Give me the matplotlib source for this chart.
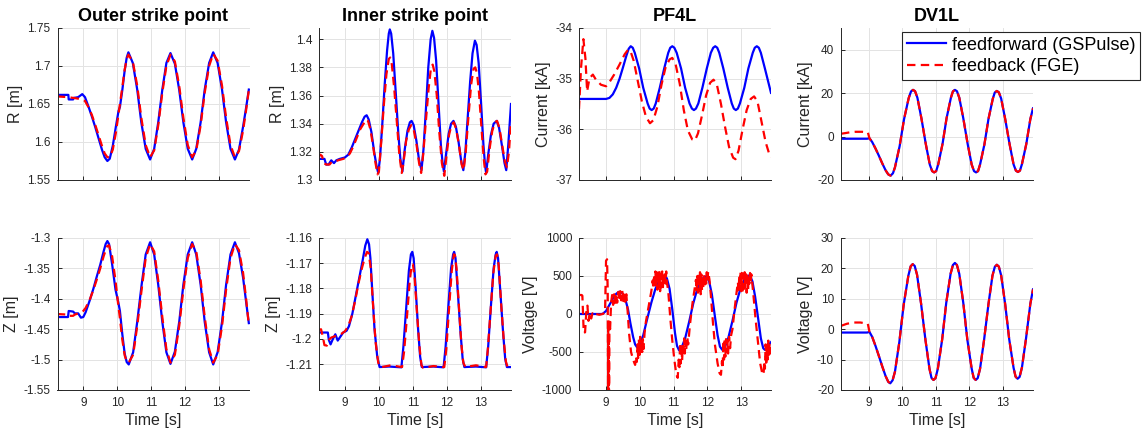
import numpy as np
import matplotlib.pyplot as plt
from matplotlib.ticker import FuncFormatter

plt.rcParams['font.family'] = ['Liberation Sans', 'DejaVu Sans']
plt.rcParams['axes.unicode_minus'] = False

# ---------------- data ----------------
# outer strike point, shared time base
t_outer_r = [8.22, 8.56, 8.57, 8.70, 8.72, 8.85, 8.97, 9.05, 9.15, 9.25, 9.35, 9.45, 9.55, 9.63,
             9.71, 9.78, 9.87, 9.96, 10.04, 10.08, 10.15, 10.22, 10.28, 10.33, 10.46, 10.59, 10.71,
             10.84, 10.97, 11.09, 11.21, 11.33, 11.45, 11.57, 11.70, 11.83, 11.95, 12.08, 12.21,
             12.33, 12.46, 12.58, 12.71, 12.83, 12.96, 13.09, 13.21, 13.34, 13.47, 13.59, 13.71,
             13.80, 13.88]
outer_r_ff = [1.662, 1.662, 1.656, 1.656, 1.658, 1.659, 1.663, 1.659, 1.647, 1.634, 1.620, 1.605,
              1.590, 1.580, 1.575, 1.578, 1.595, 1.620, 1.641, 1.646, 1.668, 1.694, 1.711, 1.718,
              1.704, 1.669, 1.626, 1.591, 1.577, 1.591, 1.626, 1.669, 1.704, 1.717, 1.703, 1.668,
              1.626, 1.591, 1.577, 1.591, 1.626, 1.669, 1.704, 1.718, 1.704, 1.669, 1.626, 1.591,
              1.577, 1.590, 1.620, 1.645, 1.669]
outer_r_fb = [1.660, 1.659, 1.659, 1.658, 1.658, 1.657, 1.656, 1.654, 1.646, 1.636, 1.623, 1.609,
              1.595, 1.585, 1.580, 1.580, 1.590, 1.612, 1.637, 1.650, 1.672, 1.695, 1.709, 1.715,
              1.706, 1.674, 1.632, 1.596, 1.580, 1.589, 1.622, 1.665, 1.700, 1.715, 1.706, 1.673,
              1.632, 1.596, 1.580, 1.589, 1.622, 1.665, 1.700, 1.716, 1.707, 1.674, 1.632, 1.596,
              1.580, 1.588, 1.615, 1.642, 1.668]

t_outer_z = [8.22, 8.55, 8.57, 8.70, 8.75, 8.85, 8.93, 9.00, 9.07, 9.20, 9.30, 9.40, 9.50, 9.60,
             9.66, 9.71, 9.76, 9.85, 9.95, 10.03, 10.08, 10.15, 10.22, 10.28, 10.34, 10.47, 10.59,
             10.72, 10.84, 10.97, 11.09, 11.21, 11.33, 11.45, 11.57, 11.70, 11.83, 11.95, 12.08,
             12.21, 12.33, 12.46, 12.58, 12.71, 12.83, 12.96, 13.09, 13.21, 13.34, 13.47, 13.59,
             13.71, 13.80, 13.88]
outer_z_ff = [-1.430, -1.430, -1.420, -1.421, -1.424, -1.424, -1.431, -1.430, -1.422, -1.401,
              -1.383, -1.363, -1.344, -1.322, -1.310, -1.305, -1.310, -1.343, -1.385, -1.405,
              -1.420, -1.458, -1.490, -1.504, -1.508, -1.488, -1.438, -1.377, -1.327, -1.307,
              -1.327, -1.377, -1.438, -1.488, -1.507, -1.487, -1.437, -1.377, -1.327, -1.307,
              -1.327, -1.377, -1.438, -1.488, -1.508, -1.488, -1.438, -1.377, -1.327, -1.307,
              -1.325, -1.365, -1.405, -1.440]
outer_z_fb = [-1.425, -1.426, -1.428, -1.428, -1.426, -1.424, -1.422, -1.420, -1.415, -1.400,
              -1.385, -1.368, -1.350, -1.330, -1.320, -1.313, -1.312, -1.330, -1.370, -1.410,
              -1.432, -1.467, -1.493, -1.503, -1.505, -1.492, -1.445, -1.385, -1.333, -1.310,
              -1.322, -1.370, -1.430, -1.483, -1.505, -1.492, -1.444, -1.385, -1.333, -1.310,
              -1.322, -1.370, -1.430, -1.483, -1.505, -1.492, -1.445, -1.385, -1.333, -1.310,
              -1.320, -1.357, -1.400, -1.443]

# inner strike point, (time, value) pairs
inner_r_ff = [(8.22, 1.315), (8.40, 1.315), (8.45, 1.311), (8.52, 1.311), (8.60, 1.314), (8.68, 1.312),
              (8.75, 1.314), (8.85, 1.315), (9.00, 1.316), (9.10, 1.318), (9.20, 1.323), (9.30, 1.329),
              (9.40, 1.335), (9.50, 1.341), (9.58, 1.345), (9.64, 1.346), (9.70, 1.343), (9.78, 1.334),
              (9.86, 1.320), (9.93, 1.310), (9.98, 1.305), (10.03, 1.315), (10.10, 1.340), (10.17, 1.368),
              (10.24, 1.392), (10.29, 1.404), (10.32, 1.407), (10.36, 1.404), (10.42, 1.390), (10.50, 1.360),
              (10.57, 1.333), (10.63, 1.315), (10.69, 1.306), (10.76, 1.322), (10.84, 1.335), (10.91, 1.341),
              (10.96, 1.342), (11.02, 1.339), (11.10, 1.328), (11.18, 1.314), (11.25, 1.307), (11.31, 1.322),
              (11.38, 1.350), (11.45, 1.380), (11.52, 1.400), (11.57, 1.406), (11.62, 1.401), (11.68, 1.385),
              (11.75, 1.355), (11.82, 1.325), (11.87, 1.312), (11.91, 1.306), (11.97, 1.318), (12.05, 1.333),
              (12.12, 1.340), (12.19, 1.342), (12.26, 1.338), (12.34, 1.327), (12.42, 1.313), (12.48, 1.307),
              (12.54, 1.320), (12.61, 1.345), (12.68, 1.370), (12.75, 1.390), (12.82, 1.399), (12.87, 1.396),
              (12.93, 1.383), (13.00, 1.355), (13.07, 1.325), (13.12, 1.310), (13.15, 1.305), (13.21, 1.318),
              (13.29, 1.332), (13.37, 1.340), (13.46, 1.342), (13.53, 1.337), (13.61, 1.325), (13.69, 1.312),
              (13.74, 1.307), (13.80, 1.325), (13.88, 1.354)]
inner_r_fb = [(8.22, 1.316), (8.28, 1.318), (8.33, 1.317), (8.38, 1.312), (8.45, 1.311), (8.55, 1.311),
              (8.62, 1.313), (8.70, 1.313), (8.80, 1.314), (8.95, 1.315), (9.05, 1.316), (9.15, 1.319),
              (9.25, 1.324), (9.35, 1.330), (9.45, 1.336), (9.55, 1.340), (9.62, 1.343), (9.68, 1.342),
              (9.75, 1.336), (9.83, 1.324), (9.90, 1.312), (9.96, 1.304), (10.00, 1.306), (10.07, 1.328),
              (10.14, 1.352), (10.22, 1.375), (10.29, 1.386), (10.33, 1.387), (10.38, 1.382), (10.45, 1.365),
              (10.53, 1.340), (10.60, 1.318), (10.67, 1.305), (10.72, 1.312), (10.80, 1.328), (10.88, 1.336),
              (10.95, 1.339), (11.02, 1.336), (11.10, 1.326), (11.18, 1.312), (11.24, 1.305), (11.30, 1.318),
              (11.38, 1.342), (11.46, 1.365), (11.53, 1.380), (11.58, 1.382), (11.63, 1.377), (11.70, 1.360),
              (11.77, 1.335), (11.85, 1.312), (11.92, 1.303), (11.98, 1.316), (12.06, 1.332), (12.13, 1.339),
              (12.20, 1.341), (12.27, 1.336), (12.35, 1.325), (12.43, 1.311), (12.49, 1.307), (12.55, 1.320),
              (12.63, 1.345), (12.71, 1.368), (12.78, 1.379), (12.83, 1.380), (12.88, 1.376), (12.94, 1.362),
              (13.01, 1.338), (13.08, 1.315), (13.13, 1.304), (13.18, 1.306), (13.25, 1.322), (13.33, 1.335),
              (13.41, 1.341), (13.47, 1.342), (13.54, 1.337), (13.62, 1.325), (13.70, 1.313), (13.76, 1.309),
              (13.82, 1.320), (13.88, 1.342)]

inner_z_ff = [(8.22, -1.1975), (8.50, -1.1975), (8.53, -1.2005), (8.58, -1.2022), (8.65, -1.2000),
              (8.72, -1.1982), (8.79, -1.2007), (8.86, -1.1993), (8.95, -1.1975), (9.05, -1.1968),
              (9.12, -1.1950), (9.22, -1.1900), (9.32, -1.1830), (9.42, -1.1760), (9.52, -1.1690),
              (9.60, -1.1630), (9.66, -1.1605), (9.71, -1.1625), (9.75, -1.1680), (9.80, -1.1800),
              (9.87, -1.1960), (9.95, -1.2070), (10.02, -1.2112), (10.30, -1.2110), (10.66, -1.2113),
              (10.72, -1.2030), (10.80, -1.1880), (10.88, -1.1730), (10.94, -1.1665), (10.98, -1.1655),
              (11.02, -1.1680), (11.08, -1.1800), (11.15, -1.1960), (11.21, -1.2070), (11.26, -1.2112),
              (11.60, -1.2110), (11.90, -1.2113), (11.96, -1.2030), (12.04, -1.1870), (12.12, -1.1720),
              (12.18, -1.1665), (12.21, -1.1655), (12.25, -1.1680), (12.32, -1.1820), (12.40, -1.1980),
              (12.46, -1.2080), (12.51, -1.2112), (12.85, -1.2110), (13.15, -1.2113), (13.21, -1.2030),
              (13.29, -1.1870), (13.37, -1.1720), (13.43, -1.1665), (13.46, -1.1655), (13.50, -1.1680),
              (13.57, -1.1820), (13.65, -1.1980), (13.71, -1.2080), (13.76, -1.2112), (13.88, -1.2112)]
inner_z_fb = [(8.22, -1.1965), (8.30, -1.1962), (8.35, -1.1990), (8.40, -1.2025), (8.47, -1.2027),
              (8.52, -1.2005), (8.60, -1.1995), (8.70, -1.1990), (8.80, -1.1985), (8.90, -1.1980),
              (9.00, -1.1970), (9.10, -1.1950), (9.20, -1.1910), (9.30, -1.1850), (9.40, -1.1780),
              (9.50, -1.1720), (9.58, -1.1680), (9.65, -1.1655), (9.70, -1.1660), (9.76, -1.1720),
              (9.83, -1.1870), (9.90, -1.2010), (9.98, -1.2095), (10.05, -1.2113), (10.35, -1.2105),
              (10.68, -1.2112), (10.74, -1.2050), (10.82, -1.1920), (10.90, -1.1780), (10.96, -1.1705),
              (11.00, -1.1705), (11.05, -1.1760), (11.12, -1.1900), (11.19, -1.2030), (11.25, -1.2105),
              (11.30, -1.2115), (11.60, -1.2108), (11.92, -1.2112), (11.98, -1.2040), (12.06, -1.1880),
              (12.14, -1.1730), (12.20, -1.1665), (12.23, -1.1667), (12.28, -1.1720), (12.35, -1.1870),
              (12.42, -1.2020), (12.48, -1.2095), (12.54, -1.2112), (12.85, -1.2105), (13.15, -1.2112),
              (13.20, -1.2040), (13.28, -1.1890), (13.36, -1.1740), (13.43, -1.1670), (13.47, -1.1665),
              (13.52, -1.1710), (13.59, -1.1860), (13.67, -1.2010), (13.73, -1.2090), (13.78, -1.2113),
              (13.88, -1.2112)]

# PF4L coil
pf4l_i_ff = [(8.20, -35.40), (9.00, -35.40), (9.10, -35.38), (9.20, -35.31), (9.30, -35.18), (9.40, -35.00),
             (9.50, -34.78), (9.60, -34.55), (9.67, -34.41), (9.73, -34.36), (9.79, -34.39), (9.85, -34.49),
             (9.98, -34.80), (10.10, -35.18), (10.23, -35.49), (10.29, -35.59), (10.35, -35.62), (10.41, -35.59),
             (10.47, -35.49), (10.59, -35.18), (10.72, -34.80), (10.84, -34.49), (10.90, -34.39), (10.96, -34.36),
             (11.02, -34.39), (11.09, -34.49), (11.22, -34.80), (11.34, -35.18), (11.47, -35.49), (11.54, -35.59),
             (11.60, -35.62), (11.66, -35.59), (11.73, -35.49), (11.85, -35.18), (11.98, -34.80), (12.10, -34.49),
             (12.17, -34.39), (12.23, -34.36), (12.29, -34.39), (12.35, -34.49), (12.47, -34.80), (12.60, -35.18),
             (12.72, -35.49), (12.78, -35.59), (12.84, -35.62), (12.90, -35.59), (12.96, -35.49), (13.09, -35.18),
             (13.21, -34.80), (13.34, -34.49), (13.40, -34.39), (13.46, -34.36), (13.52, -34.39), (13.58, -34.49),
             (13.70, -34.80), (13.82, -35.12), (13.88, -35.28)]
pf4l_i_fb = [(8.20, -35.60), (8.26, -34.79), (8.33, -34.22), (8.39, -34.60), (8.44, -35.25), (8.51, -34.99),
             (8.61, -34.92), (8.70, -35.02), (8.85, -35.12), (9.00, -35.15), (9.10, -35.07), (9.24, -34.92),
             (9.40, -34.72), (9.55, -34.52), (9.65, -34.43), (9.72, -34.45), (9.82, -34.65), (9.94, -35.05),
             (10.06, -35.45), (10.18, -35.75), (10.30, -35.88), (10.40, -35.82), (10.52, -35.55), (10.64, -35.12),
             (10.76, -34.78), (10.88, -34.62), (10.96, -34.59), (11.06, -34.72), (11.18, -35.10), (11.30, -35.62),
             (11.42, -36.02), (11.55, -36.20), (11.63, -36.22), (11.72, -36.08), (11.84, -35.72), (11.96, -35.33),
             (12.08, -35.08), (12.18, -35.02), (12.28, -35.12), (12.40, -35.50), (12.52, -35.95), (12.64, -36.35),
             (12.76, -36.56), (12.83, -36.59), (12.92, -36.42), (13.04, -36.00), (13.16, -35.62), (13.28, -35.40),
             (13.38, -35.35), (13.48, -35.45), (13.60, -35.85), (13.72, -36.25), (13.82, -36.47), (13.88, -36.55)]

pf4l_v_ff = [(8.20, 0), (8.85, 0), (8.90, 2), (9.00, 40), (9.10, 120), (9.20, 200), (9.30, 265), (9.38, 292),
             (9.44, 290), (9.50, 265), (9.58, 180), (9.65, 60), (9.72, -120), (9.80, -300), (9.86, -400),
             (9.92, -440), (9.98, -420), (10.10, -280), (10.22, -60), (10.34, 150), (10.46, 330), (10.58, 450),
             (10.68, 492), (10.74, 495), (10.80, 470), (10.88, 330), (10.96, 60), (11.04, -250), (11.10, -420),
             (11.16, -478), (11.22, -460), (11.34, -320), (11.46, -100), (11.58, 140), (11.70, 330), (11.82, 450),
             (11.92, 493), (11.98, 490), (12.05, 430), (12.13, 260), (12.22, -30), (12.30, -280), (12.37, -430),
             (12.44, -472), (12.50, -455), (12.62, -310), (12.74, -90), (12.86, 150), (12.98, 340), (13.10, 460),
             (13.20, 505), (13.26, 500), (13.33, 430), (13.41, 230), (13.50, -60), (13.58, -320), (13.65, -450),
             (13.70, -472), (13.76, -455), (13.82, -400), (13.88, -370)]
pf4l_v_fb = [(8.20, 250), (8.28, 250), (8.30, 240), (8.34, -250), (8.38, -240), (8.42, 60), (8.45, 110),
             (8.48, -90), (8.52, 20), (8.56, -60), (8.60, 10), (8.65, -20), (8.70, 0), (8.80, -10), (8.90, 0),
             (8.97, 20), (9.00, 700), (9.03, 720), (9.05, 300), (9.06, -1000), (9.065, -200), (9.07, -1050),
             (9.075, -300), (9.08, -1050), (9.085, -250), (9.09, -1050), (9.10, -100), (9.12, -200),
             (9.15, 150), (9.18, 250), (9.21, 120), (9.24, 260), (9.27, 110), (9.30, 270), (9.33, 150),
             (9.36, 290), (9.39, 170), (9.42, 300), (9.45, 180), (9.48, 310), (9.51, 140), (9.54, 300),
             (9.57, 160), (9.60, 260), (9.64, 30), (9.68, -250), (9.74, -500), (9.80, -600), (9.86, -670),
             (9.89, -560), (9.91, -630), (9.93, -400), (9.95, -580), (9.97, -330), (9.99, -540), (10.01, -300),
             (10.03, -520), (10.05, -340), (10.07, -500), (10.09, -330), (10.11, -460), (10.14, -250),
             (10.18, -100), (10.26, 100), (10.34, 300), (10.38, 440), (10.40, 330), (10.42, 520), (10.44, 340),
             (10.46, 560), (10.48, 380), (10.50, 550), (10.52, 320), (10.54, 540), (10.56, 360), (10.58, 570),
             (10.60, 300), (10.62, 530), (10.64, 350), (10.66, 560), (10.68, 320), (10.70, 520), (10.72, 380),
             (10.74, 550), (10.76, 400), (10.78, 560), (10.80, 420), (10.84, 300), (10.90, -50), (10.96, -350),
             (11.02, -600), (11.08, -800), (11.12, -840), (11.15, -600), (11.17, -700), (11.19, -380),
             (11.21, -650), (11.23, -400), (11.25, -620), (11.27, -420), (11.29, -560), (11.31, -320),
             (11.33, -520), (11.35, -350), (11.37, -480), (11.40, -300), (11.43, -400), (11.48, -150),
             (11.56, 150), (11.62, 330), (11.66, 450), (11.68, 300), (11.70, 500), (11.72, 280), (11.74, 540),
             (11.76, 300), (11.78, 550), (11.80, 260), (11.82, 520), (11.84, 300), (11.86, 500), (11.88, 340),
             (11.90, 540), (11.92, 350), (11.94, 520), (11.96, 400), (11.98, 550), (12.00, 430), (12.02, 560),
             (12.06, 450), (12.10, 250), (12.16, -100), (12.22, -400), (12.30, -650), (12.36, -780),
             (12.40, -800), (12.43, -620), (12.45, -720), (12.47, -350), (12.49, -600), (12.51, -320),
             (12.53, -560), (12.55, -330), (12.57, -500), (12.59, -350), (12.61, -520), (12.64, -300),
             (12.67, -450), (12.70, -280), (12.74, -200), (12.80, 50), (12.86, 280), (12.90, 420), (12.92, 300),
             (12.94, 480), (12.96, 330), (12.98, 560), (13.00, 300), (13.02, 540), (13.04, 280), (13.06, 520),
             (13.08, 330), (13.10, 550), (13.12, 350), (13.14, 560), (13.16, 280), (13.18, 520), (13.20, 300),
             (13.22, 500), (13.24, 400), (13.26, 540), (13.28, 420), (13.30, 520), (13.36, 250), (13.42, -50),
             (13.50, -400), (13.56, -650), (13.62, -780), (13.66, -800), (13.68, -620), (13.70, -720),
             (13.72, -400), (13.74, -640), (13.76, -380), (13.78, -600), (13.80, -350), (13.82, -560),
             (13.84, -380), (13.86, -520), (13.88, -420)]

# DV1L coil
dv1l_i_ff = [(8.17, -1.0), (8.95, -1.0), (9.02, -0.8), (9.10, -2.5), (9.20, -5.5), (9.30, -8.8), (9.40, -12.3),
             (9.50, -15.5), (9.58, -17.4), (9.65, -18.0), (9.72, -16.9), (9.78, -14.2), (9.92, -4.4), (10.05, 7.9),
             (10.19, 17.7), (10.26, 20.8), (10.32, 21.5), (10.38, 20.9), (10.45, 17.9), (10.57, 8.4), (10.70, -3.4),
             (10.82, -12.9), (10.89, -15.9), (10.95, -16.5), (11.01, -15.9), (11.07, -12.9), (11.20, -3.4),
             (11.32, 8.4), (11.45, 17.9), (11.51, 20.8), (11.57, 21.5), (11.63, 20.9), (11.70, 17.9), (11.82, 8.4),
             (11.95, -3.4), (12.07, -12.9), (12.14, -15.9), (12.20, -16.5), (12.26, -15.9), (12.32, -12.9),
             (12.45, -3.6), (12.57, 8.0), (12.70, 17.4), (12.76, 20.3), (12.82, 21.0), (12.88, 20.4), (12.95, 17.5),
             (13.07, 8.1), (13.20, -3.4), (13.32, -12.8), (13.39, -15.7), (13.45, -16.3), (13.51, -15.7),
             (13.57, -12.7), (13.70, -3.4), (13.82, 8.0), (13.90, 13.0)]
dv1l_i_fb = [(8.17, 1.3), (8.30, 1.6), (8.45, 2.0), (8.60, 2.2), (8.80, 2.2), (8.97, 2.0), (9.02, -0.8),
             (9.10, -2.5), (9.20, -5.5), (9.30, -8.8), (9.40, -12.3), (9.50, -15.5), (9.58, -17.4), (9.65, -18.0),
             (9.72, -16.9), (9.78, -14.2), (9.92, -4.4), (10.05, 7.9), (10.19, 17.7), (10.26, 20.8), (10.32, 21.5),
             (10.38, 20.9), (10.45, 17.9), (10.57, 8.4), (10.70, -3.4), (10.82, -12.9), (10.89, -15.9),
             (10.95, -16.5), (11.01, -15.9), (11.07, -12.9), (11.20, -3.4), (11.32, 8.4), (11.45, 17.9),
             (11.51, 20.8), (11.57, 21.5), (11.63, 20.9), (11.70, 17.9), (11.82, 8.4), (11.95, -3.4),
             (12.07, -12.9), (12.14, -15.9), (12.20, -16.5), (12.26, -15.9), (12.32, -12.9), (12.45, -3.6),
             (12.57, 8.0), (12.70, 17.4), (12.76, 20.3), (12.82, 21.0), (12.88, 20.4), (12.95, 17.5), (13.07, 8.1),
             (13.20, -3.4), (13.32, -12.8), (13.39, -15.7), (13.45, -16.3), (13.51, -15.7), (13.57, -12.7),
             (13.70, -3.4), (13.82, 8.0), (13.90, 13.0)]

dv1l_v_ff = [(8.17, -1.1), (8.95, -1.1), (9.02, -0.9), (9.10, -2.5), (9.20, -5.5), (9.30, -8.8), (9.40, -12.2),
             (9.50, -15.4), (9.58, -17.3), (9.64, -17.8), (9.71, -16.8), (9.78, -14.0), (9.91, -4.3), (10.04, 8.0),
             (10.18, 17.6), (10.25, 20.7), (10.31, 21.4), (10.37, 20.8), (10.44, 17.9), (10.56, 8.4), (10.69, -3.5),
             (10.81, -13.0), (10.87, -16.0), (10.93, -16.7), (10.99, -16.1), (11.06, -13.0), (11.19, -3.3),
             (11.31, 8.6), (11.44, 18.2), (11.51, 21.1), (11.57, 21.8), (11.63, 21.1), (11.70, 18.2), (11.82, 8.6),
             (11.94, -3.4), (12.07, -13.0), (12.13, -16.0), (12.19, -16.7), (12.25, -16.1), (12.32, -13.0),
             (12.44, -3.5), (12.57, 8.2), (12.69, 17.6), (12.76, 20.5), (12.82, 21.2), (12.88, 20.6), (12.95, 17.7),
             (13.07, 8.2), (13.19, -3.3), (13.32, -12.7), (13.38, -15.6), (13.44, -16.3), (13.50, -15.7),
             (13.57, -12.6), (13.69, -3.2), (13.82, 8.3), (13.90, 13.1)]
dv1l_v_fb = [(8.17, 1.1), (8.35, 1.8), (8.55, 2.2), (8.75, 2.2), (8.97, 1.8), (9.02, -0.9), (9.10, -2.5),
             (9.20, -5.5), (9.30, -8.8), (9.40, -12.2), (9.50, -15.4), (9.58, -17.3), (9.64, -17.8), (9.71, -16.8),
             (9.78, -14.0), (9.91, -4.3), (10.04, 8.0), (10.18, 17.6), (10.25, 20.7), (10.31, 21.4), (10.37, 20.8),
             (10.44, 17.9), (10.56, 8.4), (10.69, -3.5), (10.81, -13.0), (10.87, -16.0), (10.93, -16.7),
             (10.99, -16.1), (11.06, -13.0), (11.19, -3.3), (11.31, 8.6), (11.44, 18.2), (11.51, 21.1),
             (11.57, 21.8), (11.63, 21.1), (11.70, 18.2), (11.82, 8.6), (11.94, -3.4), (12.07, -13.0),
             (12.13, -16.0), (12.19, -16.7), (12.25, -16.1), (12.32, -13.0), (12.44, -3.5), (12.57, 8.2),
             (12.69, 17.6), (12.76, 20.5), (12.82, 21.2), (12.88, 20.6), (12.95, 17.7), (13.07, 8.2),
             (13.19, -3.3), (13.32, -12.7), (13.38, -15.6), (13.44, -16.3), (13.50, -15.7), (13.57, -12.6),
             (13.69, -3.2), (13.82, 8.3), (13.90, 13.1)]

titles = ['Outer strike point', 'Inner strike point', 'PF4L', 'DV1L']
labels = ['feedforward (GSPulse)', 'feedback (FGE)']
time_ticks = [9, 10, 11, 12, 13]

# ---------------- figure ----------------
axc = '#262626'
fig = plt.figure(figsize=(11.43, 4.34), dpi=100)
W, H = 1143, 434
lefts = [57.5, 319, 579, 841]
xlims = [(8.24, 13.9), (8.24, 13.88), (8.2, 13.88), (8.17, 13.9)]
axes = [[None] * 4 for _ in range(2)]
for r, top in enumerate([28, 238]):
    for c in range(4):
        axes[r][c] = fig.add_axes([lefts[c] / W, 1 - (top + 152) / H, 192 / W, 152 / H])

fmt = FuncFormatter(lambda v, p: '%g' % round(v, 6))


def draw(ax, ff, fb):
    ff = np.array(ff)
    fb = np.array(fb)
    l1, = ax.plot(ff[:, 0], ff[:, 1], color='#0000ff', lw=1.6, solid_joinstyle='round')
    l2, = ax.plot(fb[:, 0], fb[:, 1], color='#ff0000', lw=1.6, dashes=(3.8, 2.4))
    return l1, l2


h = draw(axes[0][0], np.column_stack([t_outer_r, outer_r_ff]), np.column_stack([t_outer_r, outer_r_fb]))
draw(axes[1][0], np.column_stack([t_outer_z, outer_z_ff]), np.column_stack([t_outer_z, outer_z_fb]))
draw(axes[0][1], inner_r_ff, inner_r_fb)
draw(axes[1][1], inner_z_ff, inner_z_fb)
draw(axes[0][2], pf4l_i_ff, pf4l_i_fb)
draw(axes[1][2], pf4l_v_ff, pf4l_v_fb)
draw(axes[0][3], dv1l_i_ff, dv1l_i_fb)
draw(axes[1][3], dv1l_v_ff, dv1l_v_fb)

ylims = [[(1.55, 1.75), (1.3, 1.408), (-37, -34), (-20, 50)],
         [(-1.55, -1.3), (-1.2203, -1.16), (-1000, 1000), (-20, 30)]]
yticks = [[np.arange(1.55, 1.76, 0.05), np.arange(1.30, 1.401, 0.02), [-37, -36, -35, -34], [-20, 0, 20, 40]],
          [np.arange(-1.55, -1.29, 0.05), np.arange(-1.21, -1.159, 0.01), [-1000, -500, 0, 500, 1000],
           [-20, -10, 0, 10, 20, 30]]]
ylabels = [['R [m]', 'R [m]', 'Current [kA]', 'Current [kA]'],
           ['Z [m]', 'Z [m]', 'Voltage [V]', 'Voltage [V]']]

for r in range(2):
    for c in range(4):
        ax = axes[r][c]
        ax.set_xlim(xlims[c])
        ax.set_ylim(ylims[r][c])
        ax.set_xticks(time_ticks)
        ax.set_yticks(yticks[r][c])
        ax.yaxis.set_major_formatter(fmt)
        ax.grid(True, color='#e3e3e3', lw=0.7)
        ax.set_axisbelow(True)
        for s in ['top', 'right']:
            ax.spines[s].set_visible(False)
        for s in ['left', 'bottom']:
            ax.spines[s].set_color(axc)
            ax.spines[s].set_linewidth(0.7)
        ax.tick_params(direction='in', length=3, width=0.7, color=axc, labelcolor=axc,
                       labelsize=8.5, pad=5)
        ax.set_ylabel(ylabels[r][c], fontsize=11.5, color=axc, labelpad=3)
        if r == 0:
            ax.tick_params(labelbottom=False)
            ax.set_title(titles[c], fontsize=13, fontweight='bold', pad=5)
        else:
            ax.set_xlabel('Time [s]', fontsize=11.5, color=axc, labelpad=3)

leg = fig.legend(h, labels, loc='upper left', bbox_to_anchor=(902 / W, 1 - 32 / H),
                 fontsize=13, frameon=True, fancybox=False, framealpha=1, edgecolor=axc,
                 borderpad=0.25, handlelength=2.2, handletextpad=0.3, labelspacing=0.25,
                 borderaxespad=0)
leg.get_frame().set_linewidth(0.8)

fig.savefig('out.png', dpi=100)
